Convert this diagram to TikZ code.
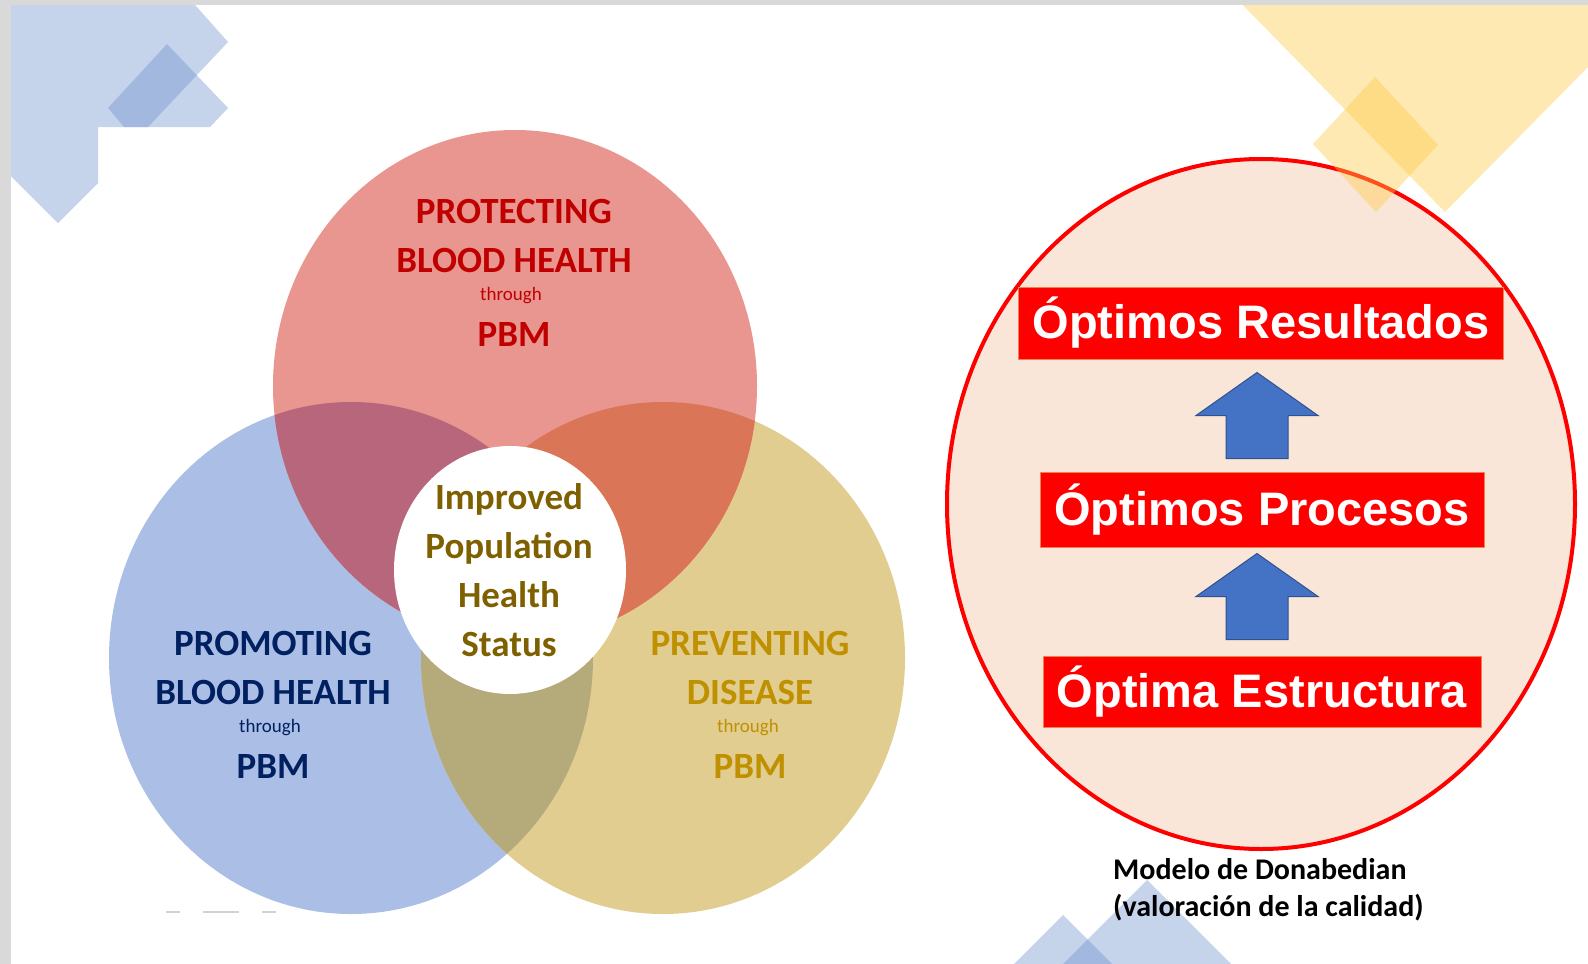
\documentclass[tikz,border=0pt]{standalone}
\usepackage{fontspec}
\setmainfont{Carlito}
\newfontfamily\arialfont{Liberation Sans}
\usepackage{xcolor}
\usetikzlibrary{calc}

\definecolor{framegray}{HTML}{D9D9D9}
\definecolor{decoblue}{HTML}{6E91CF}
\definecolor{decoyellow}{HTML}{FDCA41}
\definecolor{redfill}{HTML}{E8968F}
\definecolor{bluefill}{HTML}{AABEE6}
\definecolor{yellowfill}{HTML}{E2CD91}
\definecolor{rbfill}{HTML}{B7667C}
\definecolor{ryfill}{HTML}{DA7557}
\definecolor{byfill}{HTML}{B4AA7A}
\definecolor{redtext}{HTML}{C00000}
\definecolor{bluetext}{HTML}{002060}
\definecolor{yellowtext}{HTML}{BF9000}
\definecolor{centertext}{HTML}{7F6000}
\definecolor{peach}{HTML}{FAE5D9}
\definecolor{boxedge}{HTML}{F4804F}
\definecolor{arrowblue}{HTML}{4472C4}
\definecolor{arrowedge}{HTML}{2F528F}

\tikzset{
  venntitle/.style={font=\bfseries\fontsize{37}{49}\selectfont, align=center, inner sep=0pt},
  through/.style={font=\fontsize{19}{22}\selectfont, inner sep=0pt},
  pbm/.style={font=\bfseries\fontsize{37}{44}\selectfont, inner sep=0pt},
  stagebox/.style={fill=red, draw=boxedge, line width=1pt, text=white,
    font=\arialfont\bfseries\fontsize{47}{54}\selectfont, minimum height=72pt, inner sep=0pt},
  blockarrow/.style={fill=arrowblue, draw=arrowedge, line width=1pt, line join=miter}
}

\begin{document}
\begin{tikzpicture}[x=1pt, y=-1pt]
    \clip (0,0) rectangle (1588,964);
    \fill[white] (0,0) rectangle (1588,964);

    % corner decorations
    \fill[decoblue, fill opacity=0.4] (0,5) -- (195,5) -- (228,42) -- (148,127) -- (98,127) -- (98,183) -- (58,223) -- (0,165) -- cycle;
    \fill[decoblue, fill opacity=0.4] (167,44) -- (228,108) -- (210,127) -- (124,127) -- (108,108) -- cycle;
    \fill[decoblue, fill opacity=0.4] (1147,880) -- (1237,970) -- (1057,970) -- cycle;
    \fill[decoblue, fill opacity=0.4] (1063,915) -- (1118,970) -- (1008,970) -- cycle;
    \draw[gray!35, line width=1.5pt] (166,912) -- (180,912) (203,912) -- (239,912) (262,912) -- (276,912);

    % venn circles
    \fill[bluefill] (351,658) ellipse [x radius=242, y radius=256];
    \fill[yellowfill] (663,658) ellipse [x radius=242, y radius=256];
    \fill[redfill] (515,386) ellipse [x radius=242, y radius=256];
    \begin{scope}
      \clip (515,386) ellipse [x radius=242, y radius=256];
      \fill[rbfill] (351,658) ellipse [x radius=242, y radius=256];
      \fill[ryfill] (663,658) ellipse [x radius=242, y radius=256];
    \end{scope}
    \begin{scope}
      \clip (351,658) ellipse [x radius=242, y radius=256];
      \fill[byfill] (663,658) ellipse [x radius=242, y radius=256];
    \end{scope}
    \fill[white] (510,570) ellipse [x radius=116, y radius=124];

    % donabedian oval
    \filldraw[fill=peach, draw=red, line width=4pt] (1261,504) ellipse [x radius=314, y radius=345];
    \fill[decoyellow, fill opacity=0.4] (1238,0) -- (1588,0) -- (1588,67) -- (1445,212) -- cycle;
    \fill[decoyellow, fill opacity=0.4] (1375,77) -- (1438,145) -- (1376,212) -- (1313,144) -- cycle;

    % frame
    \fill[framegray] (0,0) rectangle (11,964);
    \fill[framegray] (0,0) rectangle (1588,5);

    % venn labels
    \node[venntitle, text=redtext] (protect) at (514,235.5) {PROTECTING\\BLOOD HEALTH};
    \node[through, text=redtext] (protectvia) at (511,296) {through};
    \node[pbm, text=redtext] (protectpbm) at (514,334) {PBM};

    \node[venntitle, text=bluetext] (promote) at (273,668) {PROMOTING\\BLOOD HEALTH};
    \node[through, text=bluetext] (promotevia) at (270,728) {through};
    \node[pbm, text=bluetext] (promotepbm) at (273,766) {PBM};

    \node[venntitle, text=yellowtext] (prevent) at (750,668) {PREVENTING\\DISEASE};
    \node[through, text=yellowtext] (preventvia) at (748,728) {through};
    \node[pbm, text=yellowtext] (preventpbm) at (750,766) {PBM};

    \node[venntitle, text=centertext] (status) at (509,570) {Improved\\Population\\Health\\Status};

    % stages
    \node[stagebox, minimum width=485pt] (results) at (1261,323) {Óptimos Resultados};
    \node[stagebox, minimum width=444pt, minimum height=75pt] (process) at (1262,509.5) {Óptimos Procesos};
    \node[stagebox, minimum width=438pt, minimum height=71pt] (structure) at (1262,691.5) {Óptima Estructura};

    % arrows
    \coordinate (tipa) at ($(results.south)+(-4,13)$);
    \coordinate (tipb) at ($(process.south)+(-5,6)$);
    \filldraw[blockarrow] (tipa) -- ++(61,43) -- ++(-30,0) -- ++(0,43) -- ++(-62,0) -- ++(0,-43) -- ++(-30,0) -- cycle;
    \filldraw[blockarrow] (tipb) -- ++(61,43) -- ++(-30,0) -- ++(0,43) -- ++(-62,0) -- ++(0,-43) -- ++(-30,0) -- cycle;

    \node[anchor=north west, align=left, inner sep=0pt, font=\bfseries\fontsize{30}{37}\selectfont] (caption) at (1113,858) {Modelo de Donabedian\\(valoración de la calidad)};

\end{tikzpicture}
\end{document}
